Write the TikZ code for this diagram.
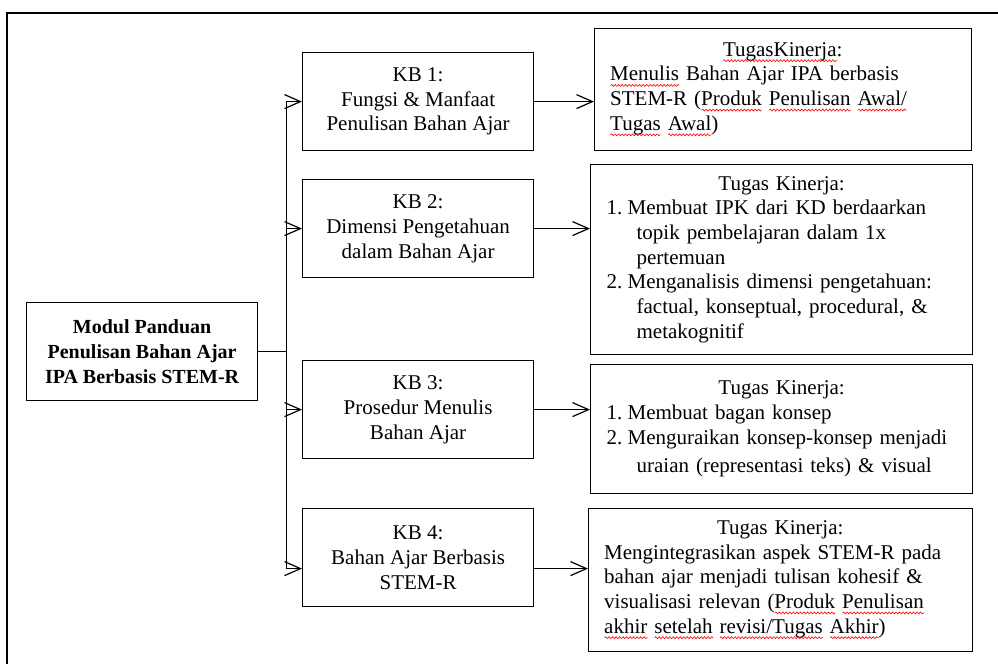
\documentclass[tikz,border=0pt]{standalone}
\usepackage{fontspec}
\setmainfont{Liberation Serif}
\usetikzlibrary{arrows.meta,positioning,calc,decorations.pathmorphing}

% red spell-check wave
\newlength\sqw
\newcommand\sq[1]{\settowidth\sqw{#1}\leavevmode\rlap{\tikz[x=1pt,y=1pt,line width=0.6pt,baseline=0pt]
  \draw[red,decorate,decoration={snake,amplitude=1pt,segment length=3.5pt}] (0pt,-4.5pt) -- (\sqw,-4.5pt);}#1}
\newcommand\nr[1]{\makebox[21pt][l]{#1}}
\newcommand\cont{\hspace*{30pt}}

\begin{document}
\begin{tikzpicture}[x=1pt, y=-1pt, line width=1.2pt, >={Straight Barb[length=16pt,width=14pt]}]
\tikzstyle{box}=[draw, rectangle, inner sep=0pt, anchor=north west, font=\fontsize{21}{24.7}\selectfont]
\tikzstyle{kb}=[box, minimum width=231pt, minimum height=98pt, align=center]
\tikzstyle{task}=[box, inner xsep=16pt, text width=350pt]
\useasboundingbox (0,0) rectangle (998,664);
\draw[line width=2pt] (998,13) -- (7,13) -- (7,664);

\node[kb, font=\fontsize{20}{24.7}\selectfont\bfseries] (modul) at (26,302) {Modul Panduan\\Penulisan Bahan Ajar\\IPA Berbasis STEM-R};

\node[kb] (kb1) at (302,52)  {KB 1:\\Fungsi \& Manfaat\\Penulisan Bahan Ajar};
\node[kb] (kb2) at (302,179) {KB 2:\\Dimensi Pengetahuan\\dalam Bahan Ajar};
\node[kb] (kb3) at (302,360) {KB 3:\\Prosedur Menulis\\Bahan Ajar};
\node[kb] (kb4) at (302,508) {KB 4:\\Bahan Ajar Berbasis\\STEM-R};

\node[task, text width=345pt, minimum height=122pt] (t1) at (594,28) {{\centering\sq{TugasKinerja}:\par}
  \sq{Menulis} Bahan Ajar IPA berbasis\\
  STEM-R (\sq{Produk} \sq{Penulisan} \sq{Awal/}\\
  \sq{Tugas} \sq{Awal})};
\node[task, minimum height=190pt] (t2) at (590,164) {{\centering Tugas Kinerja:\par}
  \nr{1.}Membuat IPK dari KD berdaarkan\\
  \cont topik pembelajaran dalam 1x\\
  \cont pertemuan\\
  \nr{2.}Menganalisis dimensi pengetahuan:\\
  \cont factual, konseptual, procedural, \&\\
  \cont metakognitif};
\node[task, minimum height=129pt] (t3) at (590,364) {{\centering Tugas Kinerja:\par}
  \nr{1.}Membuat bagan konsep\\
  \nr{2.}Menguraikan konsep-konsep menjadi\\[4pt]
  \cont uraian (representasi teks) \& visual};
\node[task, text width=352pt, minimum height=143pt] (t4) at (588,508) {{\centering Tugas Kinerja:\par}
  Mengintegrasikan aspek STEM-R pada\\
  bahan ajar menjadi tulisan kohesif \&\\
  visualisasi relevan (\sq{Produk} \sq{Penulisan}\\
  \sq{akhir} \sq{setelah} \sq{revisi/Tugas} \sq{Akhir})};

% connectors
\coordinate (trunk) at ($(modul.east)+(28,0)$);
\coordinate (k4in) at ([yshift=-11pt]kb4.west);
\coordinate (k4out) at ([yshift=-11pt]kb4.east);
\draw (modul.east) -- (trunk);
\draw (trunk |- kb1.west) -- (trunk |- k4in);
\draw[->] (trunk |- kb1.west) -- (kb1.west);
\draw[->] (trunk |- kb2.west) -- (kb2.west);
\draw[->] (trunk |- kb3.west) -- (kb3.west);
\draw[->] (trunk |- k4in) -- (k4in);
\foreach \i in {1,2,3}
  \draw[->] (kb\i.east) -- (kb\i.east -| t\i.west);
\draw[->] (k4out) -- (k4out -| t4.west);
\end{tikzpicture}
\end{document}
